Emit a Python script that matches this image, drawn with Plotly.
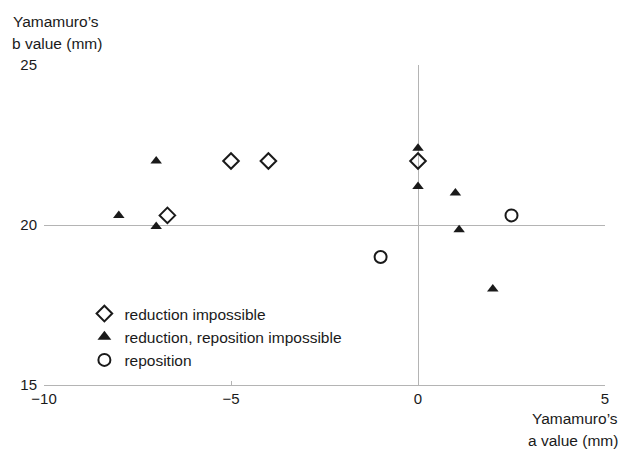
import plotly.graph_objects as go

# Data
ri_x = [-5, -4, -6.7, 0]
ri_y = [22, 22, 20.3, 22]

rr_x = [-7, -8, -7, 0, 0, 1, 1.1, 2]
rr_y = [22, 20.3, 19.95, 22.4, 21.2, 21, 19.85, 18]

rep_x = [-1, 2.5]
rep_y = [19, 20.3]

x_ticks = [-10, -5, 0, 5]
x_ticktext = ["\u221210", "\u22125", "0", "5"]
y_ticks = [15, 20, 25]

FONT = "Liberation Sans, Arial, sans-serif"
INK = "#1a1a1a"
GRID = "#b4b4b4"

fig = go.Figure()
fig.add_trace(go.Scatter(
    x=ri_x, y=ri_y, mode="markers", name="reduction impossible",
    marker=dict(symbol="diamond-open", size=12, color=INK, line=dict(width=2, color=INK)),
))
fig.add_trace(go.Scatter(
    x=rr_x, y=rr_y, mode="markers", name="reduction, reposition impossible",
    marker=dict(symbol="triangle-up", size=10, color=INK, line=dict(width=0)),
))
fig.add_trace(go.Scatter(
    x=rep_x, y=rep_y, mode="markers", name="reposition",
    marker=dict(symbol="circle-open", size=12, color=INK, line=dict(width=2, color=INK)),
))

def label(text, x, y, xanchor, xshift, yshift):
    return dict(text=text, xref="paper", yref="paper", x=x, y=y,
                xanchor=xanchor, yanchor="middle", xshift=xshift, yshift=yshift,
                showarrow=False, font=dict(size=15.5, family=FONT, color=INK))

fig.update_layout(
    width=620, height=448,
    margin=dict(l=36, r=23, t=57, b=71, autoexpand=False),
    paper_bgcolor="white", plot_bgcolor="white",
    font=dict(family=FONT, size=15, color=INK),
    showlegend=True,
    legend=dict(
        x=0.072, y=0.275, xanchor="left", yanchor="top",
        bgcolor="rgba(0,0,0,0)", font=dict(size=15.5, family=FONT, color=INK),
        tracegroupgap=0, itemsizing="constant",
    ),
    xaxis=dict(
        range=[-10, 5], tickvals=x_ticks, ticktext=x_ticktext,
        showgrid=False, zeroline=True, zerolinecolor=GRID, zerolinewidth=1,
        showline=True, linecolor=GRID, linewidth=1,
        ticks="inside", ticklen=4, tickcolor=GRID,
        tickfont=dict(size=15, family=FONT, color=INK),
    ),
    yaxis=dict(
        range=[15, 25], tickvals=y_ticks,
        showgrid=True, gridcolor=GRID, gridwidth=1,
        zeroline=False, showline=False, ticks="",
        ticklabelstandoff=6,
        tickfont=dict(size=15, family=FONT, color=INK),
    ),
    annotations=[
        label("Yamamuro\u2019s", 0, 1, "left", -33, 44),
        label("b value (mm)", 0, 1, "left", -34, 22),
        label("Yamamuro\u2019s", 1, 0, "right", 15, -33),
        label("a value (mm)", 1, 0, "right", 15, -55),
    ],
)

fig.write_html("out.html")
